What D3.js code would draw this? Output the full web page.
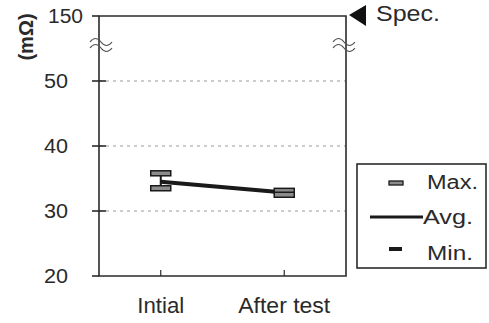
<!DOCTYPE html>
<html>
  <head>
    <meta charset="utf-8">
    <title>Resistance chart</title>
    <script src="https://d3js.org/d3.v7.min.js"></script>
    <style>
      body { margin: 0; background: #fff; }
      text { font-family: "Liberation Sans", Arial, sans-serif; fill: #2a2a2a; }
    </style>
  </head>
  <body>
    <svg width="489" height="323"></svg>
    <script>
      // chart data
      var categories = ["Intial", "After test"];
      var maxVals = [35.8, 33.1];
      var avgVals = [34.5, 32.85];
      var minVals = [33.5, 32.5];
      var yTickVals = [20, 30, 40, 50, 60];
      var yTickLabels = ["20", "30", "40", "50", "150"];
      var gridVals = [30, 40, 50];

      var svg = d3.select("svg");
      var plotL = 99, plotR = 346, plotT = 16, plotB = 276;

      var x = d3.scalePoint().domain(categories).range([plotL, plotR]).padding(0.5);
      var y = d3.scaleLinear().domain([20, 60]).range([plotB, plotT]);

      // dashed gridlines
      svg.append("g").selectAll("line").data(gridVals).enter().append("line")
          .attr("x1", plotL).attr("x2", plotR)
          .attr("y1", d => y(d)).attr("y2", d => y(d))
          .attr("stroke", "#9a9a9a").attr("stroke-width", 1.2)
          .attr("stroke-dasharray", "3,4");

      // frame
      svg.append("path")
          .attr("d", "M" + plotL + "," + plotT + "H" + plotR + "V" + plotB + "H" + plotL + "Z")
          .attr("fill", "none").attr("stroke", "#2b2b2b").attr("stroke-width", 1.6);

      // y ticks + labels
      svg.append("g").selectAll("line").data(yTickVals).enter().append("line")
          .attr("x1", plotL - 7).attr("x2", d => (d === 20 || d === 60) ? plotL : plotL + 7)
          .attr("y1", d => y(d)).attr("y2", d => y(d))
          .attr("stroke", "#2b2b2b").attr("stroke-width", 1.6);

      svg.append("g").selectAll("text").data(yTickVals).enter().append("text")
          .attr("x", (d, i) => yTickLabels[i].length > 2 ? 83 : 68)
          .attr("y", d => y(d))
          .attr("dy", "0.36em")
          .attr("text-anchor", "end")
          .attr("font-size", 20)
          .attr("textLength", (d, i) => yTickLabels[i].length > 2 ? 35 : 24)
          .attr("lengthAdjust", "spacingAndGlyphs")
          .text((d, i) => yTickLabels[i]);

      // x ticks + labels
      svg.append("g").selectAll("line").data(categories).enter().append("line")
          .attr("x1", d => x(d)).attr("x2", d => x(d))
          .attr("y1", plotB).attr("y2", plotB - 6)
          .attr("stroke", "#2b2b2b").attr("stroke-width", 1.2);

      svg.append("g").selectAll("text").data(categories).enter().append("text")
          .attr("x", d => x(d)).attr("y", 313)
          .attr("text-anchor", "middle")
          .attr("font-size", 22)
          .attr("textLength", (d, i) => i === 0 ? 47 : 92)
          .attr("lengthAdjust", "spacingAndGlyphs")
          .text(d => d);

      // axis unit
      svg.append("text")
          .attr("transform", "translate(33,37) rotate(-90)")
          .attr("text-anchor", "middle")
          .attr("font-size", 20).attr("font-weight", "bold")
          .text("(mΩ)");

      // axis break marks
      function breakMark(cx, cy) {
        var g = svg.append("g");
        [-3, 3].forEach(function(off) {
          g.append("path")
              .attr("d", "M" + (cx - 11) + "," + (cy + off + 2) +
                    " q5.5,-7 11,0 t11,0")
              .attr("fill", "none").attr("stroke", "#555").attr("stroke-width", 1.2);
        });
      }
      breakMark(plotL + 2, 43);
      breakMark(plotR - 2, 43);

      // spec marker
      svg.append("path")
          .attr("d", "M349,15 L366,5 L366,26 Z")
          .attr("fill", "#111");
      svg.append("text")
          .attr("x", 376).attr("y", 21)
          .attr("font-size", 22)
          .attr("textLength", 64)
          .attr("lengthAdjust", "spacingAndGlyphs")
          .text("Spec.");

      // average line
      var line = d3.line().x((d, i) => x(categories[i])).y(d => y(d));
      svg.append("path").datum(avgVals)
          .attr("d", line)
          .attr("fill", "none").attr("stroke", "#1a1a1a").attr("stroke-width", 4);

      // max/min whiskers
      var bars = svg.append("g").selectAll("g").data(categories).enter().append("g");
      bars.append("line")
          .attr("x1", d => x(d)).attr("x2", d => x(d))
          .attr("y1", (d, i) => y(maxVals[i])).attr("y2", (d, i) => y(minVals[i]))
          .attr("stroke", "#1a1a1a").attr("stroke-width", 2);
      [maxVals, minVals].forEach(function(vals) {
        bars.append("rect")
            .attr("x", d => x(d) - 10).attr("width", 20)
            .attr("y", (d, i) => y(vals[i]) - 2.5).attr("height", 5)
            .attr("fill", "#8c8c8c").attr("stroke", "#1a1a1a").attr("stroke-width", 1.5);
      });

      // legend
      var lg = svg.append("g");
      lg.append("rect")
          .attr("x", 357).attr("y", 164).attr("width", 129).attr("height", 104)
          .attr("fill", "#fff").attr("stroke", "#2b2b2b").attr("stroke-width", 1.6);
      lg.append("rect")
          .attr("x", 389).attr("y", 181).attr("width", 14).attr("height", 4)
          .attr("fill", "#8c8c8c").attr("stroke", "#1a1a1a").attr("stroke-width", 1.3);
      lg.append("line")
          .attr("x1", 370).attr("x2", 423).attr("y1", 217).attr("y2", 217)
          .attr("stroke", "#1a1a1a").attr("stroke-width", 3);
      lg.append("rect")
          .attr("x", 389).attr("y", 247).attr("width", 13).attr("height", 4)
          .attr("fill", "#1a1a1a");
      var legendLabels = ["Max.", "Avg.", "Min."];
      var legendY = [189, 224, 260];
      var legendX = [427, 423, 427];
      var legendW = [51, 50, 46];
      lg.selectAll("text").data(legendLabels).enter().append("text")
          .attr("x", (d, i) => legendX[i])
          .attr("y", (d, i) => legendY[i])
          .attr("font-size", 20)
          .attr("textLength", (d, i) => legendW[i])
          .attr("lengthAdjust", "spacingAndGlyphs")
          .text(d => d);
    </script>
  </body>
</html>
